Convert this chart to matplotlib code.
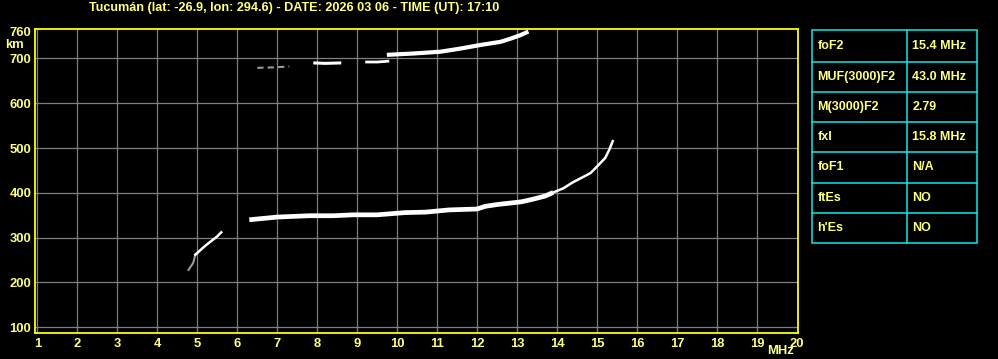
import matplotlib
matplotlib.use("Agg")
import matplotlib.pyplot as plt
from matplotlib.patches import Rectangle

# ---- data ----
title = "Tucumán (lat: -26.9, lon: 294.6) - DATE: 2026 03 06 - TIME (UT): 17:10"

x_ticks = list(range(1, 21))
y_ticks = [100, 200, 300, 400, 500, 600, 700, 760]

# F2 trace (1st hop)
f2_freq = [6.3, 7.0, 7.8, 8.4, 8.9, 9.5, 10.2, 10.7, 11.3, 12.0, 12.2, 12.5,
           12.8, 13.1, 13.4, 13.7, 13.9]
f2_height = [340, 346, 349, 349, 351, 351, 356, 357, 362, 364, 370, 374,
             377, 380, 386, 393, 401]
# F2 trace near critical frequency (thinner)
f2_tail_freq = [13.9, 14.15, 14.38, 14.83, 15.03, 15.2, 15.3, 15.4]
f2_tail_height = [401, 410, 423, 444, 462, 478, 496, 518]

# second hop trace (upper branch)
f2b_freq = [9.74, 10.41, 11.08, 11.58, 12.08, 12.58, 12.83, 13.08, 13.28]
f2b_height = [708, 711, 715, 722, 730, 737, 744, 752, 760]
# second hop, lower fragments
f2c_freq = [7.9, 8.2, 8.6]
f2c_height = [690, 689, 690]
f2d_freq = [9.2, 9.5, 9.8]
f2d_height = [692, 692, 694]
f2e_freq = [6.5, 6.9, 7.3]
f2e_height = [679, 680, 682]

# low diagonal trace
e_freq = [4.78, 4.9, 4.95, 5.2, 5.5, 5.6]
e_height = [228, 244, 262, 282, 303, 312]

table_labels = ["foF2", "MUF(3000)F2", "M(3000)F2", "fxI", "foF1", "ftEs", "h'Es"]
table_values = ["15.4 MHz", "43.0 MHz", "2.79", "15.8 MHz", "N/A", "NO", "NO"]

# ---- figure ----
W, H = 998, 359
fig = plt.figure(figsize=(W / 100, H / 100), dpi=100, facecolor="black")

FONT = "Liberation Sans"
YEL = "#FFFF80"
FRAME = "#FFFF00"
GRID = "#7f7f7f"
CYAN = "#10E8E8"

ax_l, ax_r, ax_t, ax_b = 35.3, 798.0, 29.3, 333.0
ax = fig.add_axes([ax_l / W, (H - ax_b) / H, (ax_r - ax_l) / W, (ax_b - ax_t) / H])
ax.set_facecolor("black")
ax.set_xlim(0.95, 20.02)
ax.set_ylim(87.3, 765)

for v in x_ticks[:-1]:
    ax.axvline(v, color=GRID, lw=0.9, zorder=1)
for v in y_ticks[:-1]:
    ax.axhline(v, color=GRID, lw=0.9, zorder=1)

# traces
ax.plot(f2_freq, f2_height, color="white", lw=3.4, solid_capstyle="butt", zorder=3)
ax.plot(f2_tail_freq, f2_tail_height, color="white", lw=1.8, solid_capstyle="butt", zorder=3)
ax.plot(f2b_freq, f2b_height, color="white", lw=3.0, solid_capstyle="butt", zorder=3)
ax.plot(f2c_freq, f2c_height, color="white", lw=2.2, solid_capstyle="butt", zorder=3)
ax.plot(f2d_freq, f2d_height, color="white", lw=2.0, solid_capstyle="butt", zorder=3)
ax.plot(f2e_freq, f2e_height, color="#9a9a9a", lw=1.5, ls=(0, (3, 2)), zorder=3)
ax.plot(e_freq[:3], e_height[:3], color="#9a9a9a", lw=1.5, zorder=3)
ax.plot(e_freq[2:], e_height[2:], color="white", lw=1.8, zorder=3)

for s in ax.spines.values():
    s.set_color(FRAME)
    s.set_linewidth(1.3)

TS = 9.4
ax.set_xticks(x_ticks)
ax.set_xticklabels([str(v) for v in x_ticks])
ax.set_yticks(y_ticks)
ax.set_yticklabels([str(v) for v in y_ticks])
ax.tick_params(axis="x", length=0, colors=YEL, labelsize=TS, pad=3.5)
ax.tick_params(axis="y", length=0, colors=YEL, labelsize=TS, pad=3)
for lab in ax.get_xticklabels() + ax.get_yticklabels():
    lab.set_fontfamily(FONT)
    lab.set_fontweight("bold")
    lab.set_color(YEL)

fig.text(14 / W, 1 - 45.5 / H, "km", color=YEL, fontsize=TS, fontweight="bold",
         family=FONT, ha="center", va="center")
fig.text(780 / W, 1 - 351.5 / H, "MHz", color=YEL, fontsize=TS, fontweight="bold",
         family=FONT, ha="center", va="center")

fig.text(294.5 / W, 1 - 7.5 / H, title, color=YEL, fontsize=9.1, fontweight="bold",
         family=FONT, ha="center", va="center")

# ---- parameter table ----
tx0, tx1, txm = 812.3, 977.3, 907.0
row_y = [30.0, 61.7, 91.7, 121.7, 151.7, 182.7, 212.7, 242.7]
tax = fig.add_axes([0, 0, 1, 1])
tax.set_xlim(0, W)
tax.set_ylim(H, 0)
tax.axis("off")
tax.patch.set_alpha(0)
tax.add_patch(Rectangle((tx0, row_y[0]), tx1 - tx0, row_y[-1] - row_y[0],
                        fill=False, edgecolor=CYAN, lw=1.1))
for yy in row_y[1:-1]:
    tax.plot([tx0, tx1], [yy, yy], color=CYAN, lw=1.1)
tax.plot([txm, txm], [row_y[0], row_y[-1]], color=CYAN, lw=1.1)
for i, (lab, val) in enumerate(zip(table_labels, table_values)):
    yc = (row_y[i] + row_y[i + 1]) / 2
    tax.text(817.5, yc, lab, color=YEL, fontsize=9.0, fontweight="bold",
             family=FONT, ha="left", va="center")
    tax.text(912.5, yc, val, color=YEL, fontsize=9.0, fontweight="bold",
             family=FONT, ha="left", va="center")

fig.savefig("out.png", dpi=100, facecolor="black")
